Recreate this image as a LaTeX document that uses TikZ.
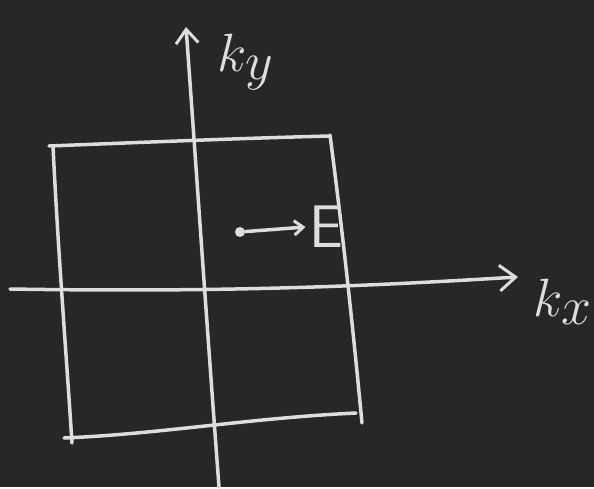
\documentclass[tikz,border=0pt]{standalone}
\usepackage{amsmath}
\usetikzlibrary{arrows.meta}
\definecolor{tableau}{HTML}{272727}
\definecolor{craie}{HTML}{DDDDDD}
\tikzset{chalk/.style={draw=craie,line width=3.5pt,line cap=round,line join=round},
	barb/.style={-{Straight Barb[length=#1,width=1.6*#1,line width=3pt]}},
	chalktext/.style={text=craie,inner sep=0pt,font=\huge\sffamily,scale=#1},
	chalktext/.default=2.9}

\begin{document}
\begin{tikzpicture}[x=1pt,y=-1pt]
	\fill[tableau] (0,0) rectangle (594,487);
	% axes
	\draw[chalk,barb=14pt] (219,487) .. controls (205,300) and (195,150) .. (186,27);
	\draw[chalk,barb=16pt] (10,289) .. controls (250,293) and (400,284) .. (518,277);
	\node[chalktext=2.6] (ky) at (246,62) {$k_{\textstyle y}$};
	\node[chalktext=2.6] (kx) at (563,302) {$k_{\textstyle x}$};
	% square
	\draw[chalk] (49,146) .. controls (150,142) and (250,138) .. (330,136);
	\draw[chalk] (330,135) .. controls (345,250) and (355,350) .. (362,423);
	\draw[chalk] (64,438) .. controls (160,434) and (250,418) .. (356,413);
	\draw[chalk] (53,146) .. controls (58,250) and (66,350) .. (72,443);
	% field
	\node[circle,fill=craie,inner sep=0pt,minimum size=10pt] (dot) at (240,232) {};
	\node[chalktext] (E) at (326,227) {E};
	\draw[chalk,barb=9pt] (dot) -- ([xshift=-3pt]E.west);
\end{tikzpicture}
\end{document}
